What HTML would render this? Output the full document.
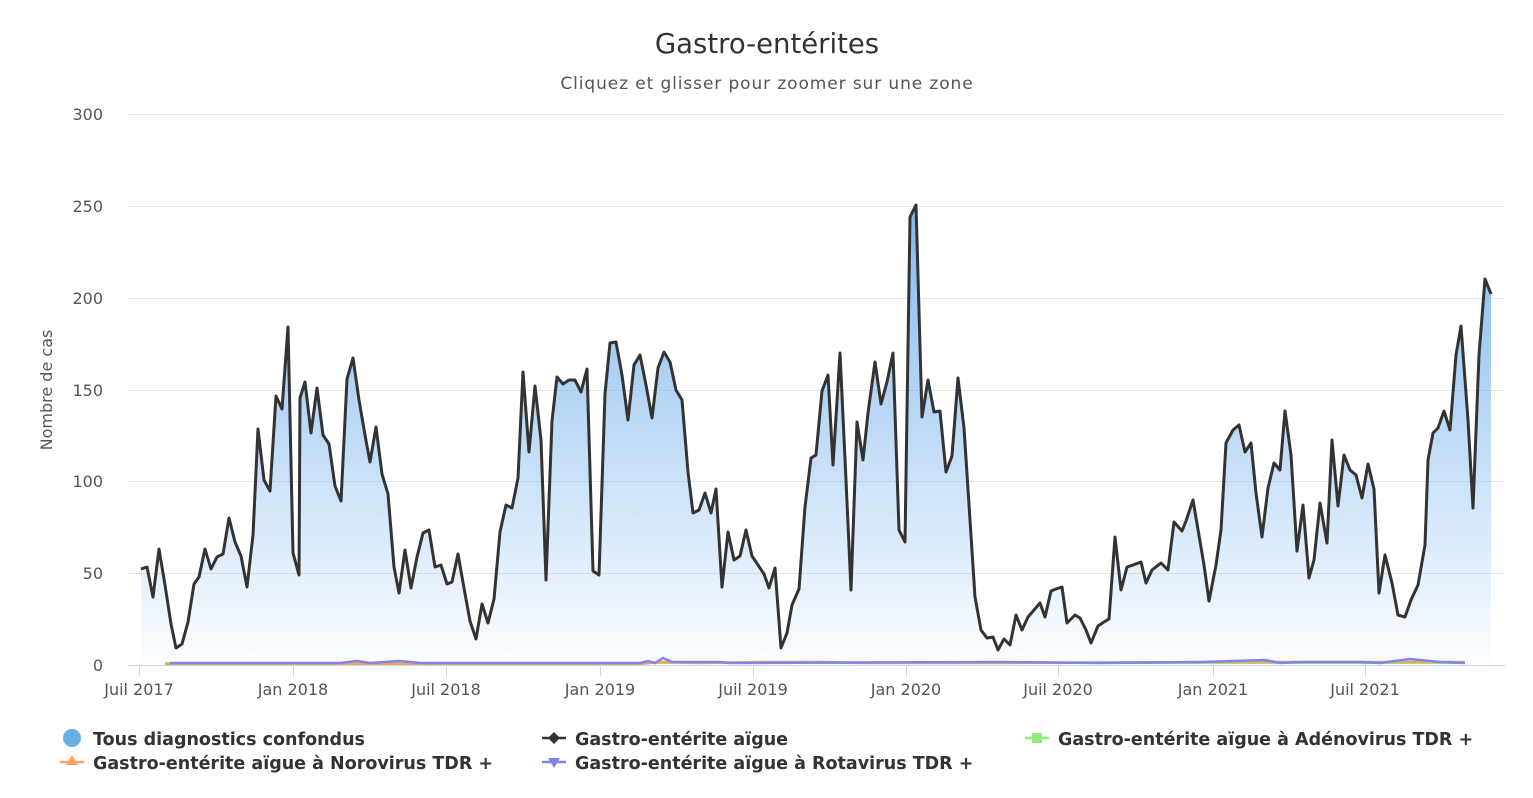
<!DOCTYPE html>
<html><head><meta charset="utf-8"><style>
html,body{margin:0;padding:0;background:#fff;}
svg{display:block;font-family:"DejaVu Sans","Liberation Sans",sans-serif;}
</style></head><body>
<svg width="1533" height="798" viewBox="0 0 1533 798">
<defs>
<linearGradient id="g" x1="0" y1="205" x2="0" y2="665" gradientUnits="userSpaceOnUse">
<stop offset="0" stop-color="#7cb5ec" stop-opacity="0.95"/>
<stop offset="1" stop-color="#7cb5ec" stop-opacity="0.02"/>
</linearGradient>
</defs>
<text x="767" y="53" text-anchor="middle" font-size="27.5" fill="#333">Gastro-entérites</text>
<text x="767" y="89" text-anchor="middle" font-size="17" fill="#555" letter-spacing="0.9">Cliquez et glisser pour zoomer sur une zone</text>
<g stroke="#e6e6e6" stroke-width="1">
<line x1="128" y1="114.5" x2="1505" y2="114.5"/>
<line x1="128" y1="206.5" x2="1505" y2="206.5"/>
<line x1="128" y1="298.5" x2="1505" y2="298.5"/>
<line x1="128" y1="390.5" x2="1505" y2="390.5"/>
<line x1="128" y1="481.5" x2="1505" y2="481.5"/>
<line x1="128" y1="573.5" x2="1505" y2="573.5"/>
</g>
<g font-size="16" fill="#555" text-anchor="end">
<text x="103" y="120">300</text><text x="103" y="212">250</text><text x="103" y="304">200</text>
<text x="103" y="396">150</text><text x="103" y="487">100</text><text x="103" y="579">50</text><text x="103" y="671">0</text>
</g>
<text transform="translate(52,390) rotate(-90)" text-anchor="middle" font-size="16" fill="#555">Nombre de cas</text>
<polygon fill="url(#g)" points="141,665 141,569 147,567 153,597 159,549 165,585 171,624 176,648 182,644 188,622 194,584 199,577 205,549 211,569 217,557 223,554 229,518 235,542 241,556 247,587 253,535 258,429 264,480 270,491 276,396 282,409 288,327 293,553 299,575 300,398 305,382 311,433 317,388 323,435 329,444 335,486 341,501 347,379 353,358 359,400 365,435 370,462 376,427 382,474 388,494 394,567 399,593 405,550 411,588 417,557 423,533 429,530 435,567 441,565 447,584 452,582 458,554 464,588 470,621 476,639 482,604 488,623 494,599 500,532 506,505 512,508 518,478 523,372 529,452 535,386 541,440 546,580 552,421 557,377 563,384 569,380 575,380 581,392 587,369 593,571 599,575 605,394 610,343 616,342 622,375 628,420 634,365 640,355 646,385 652,418 658,368 664,352 670,362 676,390 682,400 688,472 693,513 699,510 705,493 711,513 716,489 722,587 728,532 734,560 740,556 746,530 752,556 758,565 764,574 769,588 775,568 781,648 787,633 792,605 799,589 805,507 811,458 816,455 822,391 828,375 833,465 840,353 846,480 851,590 857,422 863,460 868,413 875,362 881,404 887,382 893,353 899,530 905,542 910,217 916,205 922,417 928,380 934,412 940,411 946,472 952,456 958,378 964,428 970,520 975,597 981,630 987,638 993,637 998,650 1004,639 1010,645 1016,615 1022,630 1028,617 1034,610 1040,603 1045,617 1051,591 1056,589 1062,587 1067,623 1075,615 1080,618 1086,630 1091,643 1098,626 1104,622 1109,619 1115,537 1121,590 1127,567 1133,565 1141,562 1146,583 1152,570 1161,563 1168,570 1174,522 1182,531 1186,521 1193,500 1204,565 1209,601 1216,565 1221,530 1226,443 1233,430 1239,425 1245,452 1251,443 1256,493 1262,537 1268,488 1274,463 1280,470 1285,411 1291,455 1297,551 1303,505 1309,578 1314,560 1320,503 1327,543 1332,440 1338,506 1344,455 1350,470 1356,475 1362,498 1368,464 1374,489 1379,593 1385,555 1392,583 1398,615 1405,617 1411,600 1418,585 1425,545 1428,460 1433,433 1438,428 1444,411 1450,430 1456,355 1461,326 1468,420 1473,508 1479,355 1485,279 1491,294 1491,665"/>
<polyline fill="none" stroke="#90ed7d" stroke-width="2" points="165,663 1465,663"/>
<polyline fill="none" stroke="#f7a35c" stroke-width="2.5" points="165,664 640,664 660,662 700,663 760,662 830,662 860,663 1000,663 1200,662 1465,662"/>
<polyline fill="none" stroke="#8085e9" stroke-width="2.5" points="170,663 340,663 357,661 370,663 400,661 420,663 640,663 648,661 655,663 663,658 672,662 720,662 730,663 1000,662 1100,663 1200,662 1265,660 1280,663 1300,662 1360,662 1380,663 1410,659 1440,662 1465,663"/>
<polyline fill="none" stroke="#333" stroke-width="3" stroke-linejoin="round" points="141,569 147,567 153,597 159,549 165,585 171,624 176,648 182,644 188,622 194,584 199,577 205,549 211,569 217,557 223,554 229,518 235,542 241,556 247,587 253,535 258,429 264,480 270,491 276,396 282,409 288,327 293,553 299,575 300,398 305,382 311,433 317,388 323,435 329,444 335,486 341,501 347,379 353,358 359,400 365,435 370,462 376,427 382,474 388,494 394,567 399,593 405,550 411,588 417,557 423,533 429,530 435,567 441,565 447,584 452,582 458,554 464,588 470,621 476,639 482,604 488,623 494,599 500,532 506,505 512,508 518,478 523,372 529,452 535,386 541,440 546,580 552,421 557,377 563,384 569,380 575,380 581,392 587,369 593,571 599,575 605,394 610,343 616,342 622,375 628,420 634,365 640,355 646,385 652,418 658,368 664,352 670,362 676,390 682,400 688,472 693,513 699,510 705,493 711,513 716,489 722,587 728,532 734,560 740,556 746,530 752,556 758,565 764,574 769,588 775,568 781,648 787,633 792,605 799,589 805,507 811,458 816,455 822,391 828,375 833,465 840,353 846,480 851,590 857,422 863,460 868,413 875,362 881,404 887,382 893,353 899,530 905,542 910,217 916,205 922,417 928,380 934,412 940,411 946,472 952,456 958,378 964,428 970,520 975,597 981,630 987,638 993,637 998,650 1004,639 1010,645 1016,615 1022,630 1028,617 1034,610 1040,603 1045,617 1051,591 1056,589 1062,587 1067,623 1075,615 1080,618 1086,630 1091,643 1098,626 1104,622 1109,619 1115,537 1121,590 1127,567 1133,565 1141,562 1146,583 1152,570 1161,563 1168,570 1174,522 1182,531 1186,521 1193,500 1204,565 1209,601 1216,565 1221,530 1226,443 1233,430 1239,425 1245,452 1251,443 1256,493 1262,537 1268,488 1274,463 1280,470 1285,411 1291,455 1297,551 1303,505 1309,578 1314,560 1320,503 1327,543 1332,440 1338,506 1344,455 1350,470 1356,475 1362,498 1368,464 1374,489 1379,593 1385,555 1392,583 1398,615 1405,617 1411,600 1418,585 1425,545 1428,460 1433,433 1438,428 1444,411 1450,430 1456,355 1461,326 1468,420 1473,508 1479,355 1485,279 1491,294"/>
<line x1="128" y1="665.5" x2="1505" y2="665.5" stroke="#ccd6eb" stroke-width="1"/>
<g stroke="#ccd6eb" stroke-width="1">
<line x1="139.5" y1="665" x2="139.5" y2="676"/><line x1="293.5" y1="665" x2="293.5" y2="676"/>
<line x1="446.5" y1="665" x2="446.5" y2="676"/><line x1="600.5" y1="665" x2="600.5" y2="676"/>
<line x1="753.5" y1="665" x2="753.5" y2="676"/><line x1="906.5" y1="665" x2="906.5" y2="676"/>
<line x1="1058.5" y1="665" x2="1058.5" y2="676"/><line x1="1213.5" y1="665" x2="1213.5" y2="676"/>
<line x1="1365.5" y1="665" x2="1365.5" y2="676"/>
</g>
<g font-size="16" fill="#555" text-anchor="middle">
<text x="139" y="695">Juil 2017</text><text x="293" y="695">Jan 2018</text><text x="446" y="695">Juil 2018</text>
<text x="600" y="695">Jan 2019</text><text x="753" y="695">Juil 2019</text><text x="906" y="695">Jan 2020</text>
<text x="1058" y="695">Juil 2020</text><text x="1213" y="695">Jan 2021</text><text x="1365" y="695">Juil 2021</text>
</g>
<g font-size="17.5" font-weight="bold" fill="#333">
<circle cx="72" cy="738" r="9" fill="#6aaee6"/>
<text x="93" y="745">Tous diagnostics confondus</text>
<line x1="60" y1="762" x2="84" y2="762" stroke="#f7a35c" stroke-width="2.5"/>
<polygon points="72,755 78,765 66,765" fill="#f7a35c"/>
<text x="93" y="769">Gastro-entérite aïgue à Norovirus TDR +</text>
<line x1="542" y1="738" x2="566" y2="738" stroke="#333" stroke-width="2.5"/>
<polygon points="554,732 560,738 554,744 548,738" fill="#333"/>
<text x="575" y="745">Gastro-entérite aïgue</text>
<line x1="542" y1="762" x2="566" y2="762" stroke="#8085e9" stroke-width="2.5"/>
<polygon points="548,758 560,758 554,768" fill="#8085e9"/>
<text x="575" y="769">Gastro-entérite aïgue à Rotavirus TDR +</text>
<line x1="1025" y1="738" x2="1049" y2="738" stroke="#90ed7d" stroke-width="2.5"/>
<rect x="1032" y="733" width="10" height="10" fill="#90ed7d"/>
<text x="1058" y="745">Gastro-entérite aïgue à Adénovirus TDR +</text>
</g>
</svg>
</body></html>
